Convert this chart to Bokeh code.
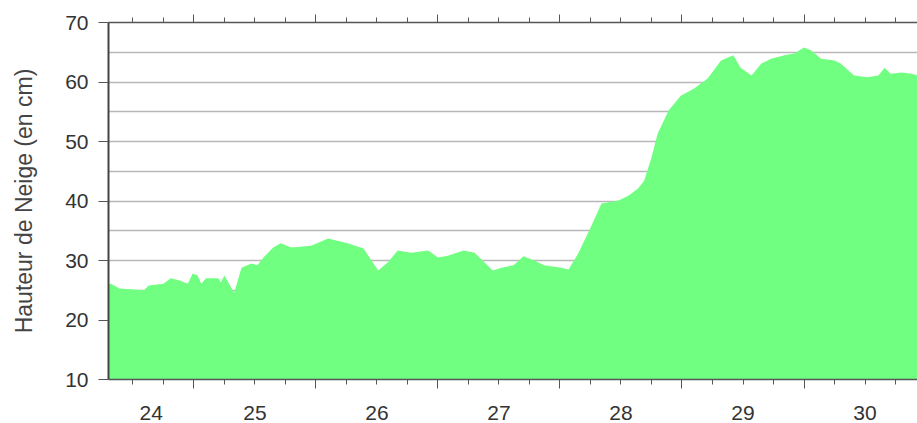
from bokeh.plotting import figure
from bokeh.models import LinearAxis, FixedTicker, Range1d, Grid
from bokeh.embed import file_html
from bokeh.resources import INLINE

# --- data (day of month, snow depth in cm) ---
days = [24.30, 24.32, 24.39, 24.59, 24.63, 24.75, 24.81, 24.89, 24.95, 24.99,
        25.03, 25.06, 25.10, 25.20, 25.22, 25.25, 25.33, 25.39, 25.47, 25.52,
        25.57, 25.65, 25.71, 25.80, 25.96, 26.10, 26.26, 26.39, 26.51, 26.59,
        26.67, 26.78, 26.92, 27.00, 27.08, 27.21, 27.30, 27.45, 27.52, 27.62,
        27.70, 27.79, 27.87, 28.01, 28.07, 28.15, 28.25, 28.34, 28.48, 28.56,
        28.64, 28.69, 28.75, 28.80, 28.89, 28.99, 29.10, 29.21, 29.32, 29.42,
        29.48, 29.57, 29.65, 29.73, 29.84, 29.92, 30.00, 30.06, 30.14, 30.25,
        30.30, 30.41, 30.52, 30.61, 30.66, 30.71, 30.80, 30.88, 30.93, 31.00]
depth_cm = [26.0, 26.1, 25.3, 25.0, 25.8, 26.1, 27.0, 26.6, 26.1, 27.8,
            27.5, 26.1, 27.0, 27.0, 26.3, 27.5, 24.6, 28.8, 29.5, 29.2,
            30.5, 32.2, 32.9, 32.2, 32.5, 33.7, 32.9, 32.0, 28.3, 29.7,
            31.7, 31.3, 31.7, 30.5, 30.8, 31.7, 31.3, 28.3, 28.8, 29.2,
            30.7, 30.0, 29.2, 28.8, 28.5, 31.2, 35.5, 39.6, 40.1, 40.9,
            42.1, 43.4, 47.3, 51.3, 55.2, 57.7, 58.9, 60.6, 63.6, 64.5,
            62.4, 61.1, 63.1, 63.9, 64.5, 64.8, 65.8, 65.3, 63.9, 63.6,
            63.1, 61.1, 60.8, 61.1, 62.4, 61.4, 61.6, 61.4, 61.1, 61.0]
day_labels = ["24", "25", "26", "27", "28", "29", "30"]
day_numbers = [24, 25, 26, 27, 28, 29, 30]
y_ticks = [10, 20, 30, 40, 50, 60, 70]
y_grid = [10, 15, 20, 25, 30, 35, 40, 45, 50, 55, 60, 65, 70]

x_start, x_end = 24.30, 30.93
FONT = "Liberation Sans"
TXT = "#333333"
AX = "#555555"

p = figure(width=917, height=423,
           x_range=Range1d(x_start, x_end), y_range=Range1d(10, 70),
           output_backend="svg", toolbar_location=None,
           x_axis_location=None, y_axis_location=None,
           min_border_left=108, min_border_right=0,
           min_border_top=22, min_border_bottom=44)
p.outline_line_color = None
p.background_fill_color = "white"
p.border_fill_color = "white"
p.grid.visible = False

p.add_layout(Grid(dimension=1, ticker=FixedTicker(ticks=y_grid),
                  grid_line_color="#b8b8b8", grid_line_width=1.5))

p.varea(x=days, y1=0, y2=depth_cm, fill_color="#70ff80")

midnights = [d for d in range(25, 32)]
quarter = [d + q / 4 for d in range(24, 32) for q in range(4)]

def short_tick_axis():
    # quarter-day ticks (no major ticks -> no labels)
    ax = LinearAxis(ticker=FixedTicker(ticks=[], minor_ticks=quarter))
    ax.major_tick_out = 0
    ax.major_tick_in = 0
    ax.minor_tick_out = 5
    ax.minor_tick_in = 0
    ax.minor_tick_line_color = AX
    ax.axis_line_color = AX
    ax.axis_line_width = 1.5
    ax.major_label_standoff = 0
    return ax

def long_tick_axis(labels):
    # midnight ticks reaching back to the frame edge, optional day labels
    if labels:
        tk = FixedTicker(ticks=label_pos, minor_ticks=midnights)
    else:
        tk = FixedTicker(ticks=[], minor_ticks=midnights)
    ax = LinearAxis(ticker=tk)
    ax.major_tick_out = 0
    ax.major_tick_in = 0
    ax.major_tick_line_color = None
    ax.minor_tick_in = 5
    ax.minor_tick_out = 4
    ax.minor_tick_line_color = AX
    ax.axis_line_color = None
    return ax

label_pos = [round((max(d, x_start) + d + 1) / 2, 3) for d in day_numbers]

p.add_layout(short_tick_axis(), "below")
lab_axis = long_tick_axis(True)
lab_axis.major_label_overrides = {pos: lbl for pos, lbl in zip(label_pos, day_labels)}
lab_axis.major_label_text_font = FONT
lab_axis.major_label_text_font_size = "21px"
lab_axis.major_label_text_color = TXT
lab_axis.major_label_standoff = 17
p.add_layout(lab_axis, "below")

p.add_layout(short_tick_axis(), "above")
top2 = long_tick_axis(False)
top2.minor_tick_out = 3
p.add_layout(top2, "above")

yax = LinearAxis(ticker=FixedTicker(ticks=y_ticks, minor_ticks=[]))
yax.major_tick_out = 10
yax.major_tick_in = 0
yax.minor_tick_out = 0
yax.major_tick_line_color = AX
yax.axis_line_color = "#444444"
yax.axis_line_width = 2
yax.major_label_text_font = FONT
yax.major_label_text_font_size = "21px"
yax.major_label_text_color = TXT
yax.major_label_standoff = 10
yax.axis_label = "Hauteur de Neige (en cm)"
yax.axis_label_text_font = FONT
yax.axis_label_text_font_size = "23px"
yax.axis_label_text_font_style = "normal"
yax.axis_label_text_color = "#444444"
yax.axis_label_standoff = 25
p.add_layout(yax, "left")

open("out.html", "w").write(file_html(p, INLINE))
